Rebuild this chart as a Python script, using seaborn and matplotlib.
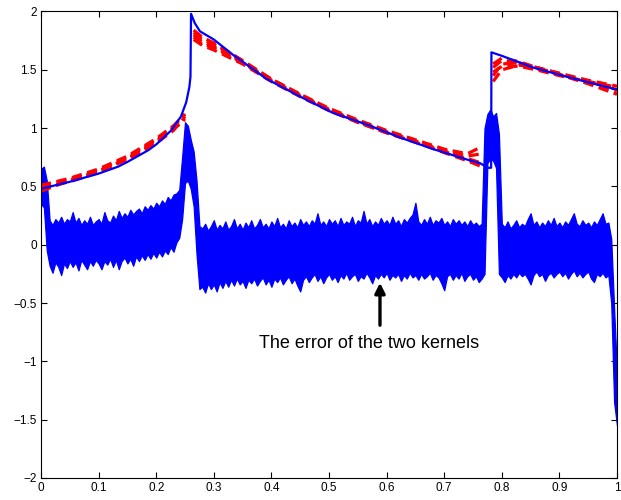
import numpy as np
import pandas as pd
import matplotlib
matplotlib.use("Agg")
import matplotlib.pyplot as plt
import seaborn as sns

# ---------------- data ----------------
# true function (blue solid)
true_x = [0.0, 0.05, 0.10, 0.134, 0.15, 0.186, 0.20, 0.226, 0.243, 0.252, 0.2575, 0.2595,
          0.2605, 0.267, 0.276, 0.30, 0.333, 0.35, 0.392, 0.40, 0.45, 0.507, 0.566, 0.623,
          0.681, 0.74, 0.762, 0.776, 0.7815, 0.782, 0.80, 0.854, 0.913, 1.0]
true_y = [0.48, 0.54, 0.61, 0.67, 0.71, 0.81, 0.86, 0.98, 1.10, 1.22, 1.35, 1.44,
          1.98, 1.90, 1.83, 1.76, 1.63, 1.57, 1.42, 1.40, 1.27, 1.13, 1.03, 0.92,
          0.82, 0.73, 0.70, 0.66, 0.66, 1.65, 1.62, 1.52, 1.44, 1.33]

# estimates with the two kernels (red dashed), three pieces each
red_x1 = [0.0, 0.05, 0.10, 0.15, 0.20, 0.23, 0.25]
red_x2 = [0.265, 0.28, 0.30, 0.35, 0.40, 0.45, 0.50, 0.55, 0.60, 0.65, 0.70, 0.74, 0.765]
red_x3 = [0.785, 0.80, 0.83, 0.86, 0.90, 0.95, 1.0]

est1 = [0.47, 0.55, 0.63, 0.73, 0.88, 0.99, 1.08,
        1.80, 1.74, 1.70, 1.56, 1.41, 1.28, 1.16, 1.06, 0.97, 0.89, 0.80, 0.74, 0.70,
        1.45, 1.55, 1.56, 1.52, 1.47, 1.40, 1.33]
est2 = [0.50, 0.56, 0.64, 0.75, 0.90, 1.01, 1.12,
        1.84, 1.78, 1.73, 1.58, 1.42, 1.29, 1.17, 1.07, 0.98, 0.90, 0.82, 0.78, 0.84,
        1.52, 1.58, 1.55, 1.51, 1.46, 1.39, 1.30]
est3 = [0.49, 0.54, 0.62, 0.74, 0.89, 1.00, 1.06,
        1.76, 1.71, 1.67, 1.55, 1.40, 1.27, 1.15, 1.05, 0.96, 0.88, 0.79, 0.72, 0.67,
        1.40, 1.50, 1.54, 1.52, 1.47, 1.41, 1.36]
est4 = [0.46, 0.55, 0.63, 0.74, 0.87, 0.98, 1.10,
        1.82, 1.76, 1.72, 1.57, 1.42, 1.29, 1.16, 1.06, 0.97, 0.89, 0.81, 0.76, 0.78,
        1.55, 1.60, 1.57, 1.52, 1.46, 1.38, 1.29]
est5 = [0.51, 0.57, 0.65, 0.76, 0.91, 1.02, 1.12,
        1.78, 1.72, 1.69, 1.56, 1.41, 1.28, 1.16, 1.05, 0.96, 0.88, 0.80, 0.73, 0.68,
        1.48, 1.53, 1.53, 1.50, 1.45, 1.40, 1.35]

# error of the two kernels: envelope of the error curves, sampled every 0.005
band_upper = [
    0.65, 0.67, 0.55,
    0.21, 0.17, 0.22, 0.19, 0.24, 0.18, 0.22, 0.20, 0.28, 0.19, 0.23, 0.17, 0.21, 0.18, 0.24,
    0.17, 0.20, 0.22, 0.18, 0.28, 0.21, 0.19, 0.25, 0.21, 0.29, 0.23, 0.27, 0.24, 0.30, 0.26,
    0.29, 0.31, 0.27, 0.33, 0.30, 0.34, 0.31, 0.36, 0.33, 0.38, 0.35, 0.41, 0.38, 0.43, 0.44,
    0.47, 0.75, 1.05, 1.02, 0.90, 0.80, 0.55, 0.16,
    0.14, 0.18, 0.12, 0.16, 0.21, 0.13, 0.17, 0.14, 0.20, 0.13, 0.16, 0.22, 0.14, 0.18, 0.13,
    0.19, 0.15, 0.21, 0.14, 0.17, 0.22, 0.15, 0.18, 0.14, 0.20, 0.16, 0.23, 0.15, 0.18, 0.14,
    0.21, 0.16, 0.19, 0.15, 0.22, 0.17, 0.20, 0.16, 0.21, 0.18, 0.27, 0.17, 0.20, 0.16, 0.22,
    0.18, 0.21, 0.16, 0.23, 0.17, 0.20, 0.18, 0.24, 0.16, 0.21, 0.19, 0.29, 0.18, 0.22, 0.16,
    0.20, 0.17, 0.23, 0.18, 0.21, 0.17, 0.24, 0.18, 0.21, 0.16, 0.22, 0.19, 0.23, 0.26, 0.36,
    0.20, 0.17, 0.22, 0.18, 0.24, 0.17, 0.21, 0.19, 0.23, 0.17, 0.20, 0.16, 0.22, 0.18, 0.21,
    0.17, 0.20, 0.16, 0.21, 0.17, 0.19, 0.16, 0.18,
    1.00, 1.12, 1.16, 1.10, 1.13, 0.95,
    0.18, 0.15, 0.20, 0.14, 0.17, 0.21, 0.15, 0.18, 0.16, 0.22, 0.27, 0.17, 0.20, 0.15, 0.19,
    0.16, 0.21, 0.17, 0.23, 0.16, 0.19, 0.15, 0.20, 0.17, 0.22, 0.27, 0.18, 0.16, 0.21, 0.17,
    0.19, 0.15, 0.20, 0.17, 0.22, 0.27, 0.18, 0.19,
    0.05, -0.55, -1.10,
]
band_lower = [
    0.35, 0.32, -0.05,
    -0.18, -0.24, -0.15, -0.19, -0.26, -0.16, -0.20, -0.14, -0.19, -0.15, -0.22, -0.13, -0.17,
    -0.21, -0.14, -0.18, -0.13, -0.16, -0.21, -0.14, -0.17, -0.12, -0.19, -0.13, -0.21, -0.14,
    -0.11, -0.16, -0.12, -0.18, -0.10, -0.14, -0.09, -0.13, -0.08, -0.12, -0.07, -0.11, -0.06,
    -0.10, -0.05, -0.08, -0.02, -0.06, 0.02,
    0.06, 0.22, 0.53, 0.55, 0.48, 0.33, -0.08, -0.38,
    -0.36, -0.41, -0.33, -0.38, -0.34, -0.40, -0.32, -0.37, -0.31, -0.36, -0.30, -0.35, -0.29,
    -0.34, -0.31, -0.37, -0.30, -0.33, -0.29, -0.35, -0.31, -0.28, -0.34, -0.30, -0.36, -0.29,
    -0.32, -0.28, -0.34, -0.30, -0.27, -0.33, -0.29, -0.35, -0.40, -0.30, -0.27, -0.32, -0.28,
    -0.25, -0.31, -0.27, -0.33, -0.28, -0.25, -0.30, -0.27, -0.32, -0.26, -0.29, -0.24, -0.30,
    -0.27, -0.25, -0.31, -0.27, -0.29, -0.24, -0.28, -0.33, -0.26, -0.29, -0.25, -0.28, -0.24,
    -0.30, -0.26, -0.28, -0.25, -0.31, -0.26, -0.29, -0.24, -0.28, -0.26, -0.30, -0.25, -0.29,
    -0.27, -0.24, -0.30, -0.26, -0.28, -0.33, -0.39, -0.27, -0.25, -0.30, -0.26, -0.29, -0.24,
    -0.31, -0.27, -0.25, -0.30, -0.27, -0.32, -0.29,
    -0.25, 0.70, 0.74, 0.72, 0.66, -0.25,
    -0.28, -0.32, -0.26, -0.29, -0.25, -0.28, -0.24, -0.27, -0.25, -0.29, -0.34, -0.26, -0.23,
    -0.27, -0.25, -0.31, -0.26, -0.24, -0.28, -0.25, -0.23, -0.27, -0.24, -0.29, -0.25, -0.22,
    -0.27, -0.24, -0.28, -0.25, -0.23, -0.29, -0.32, -0.25, -0.27, -0.24, -0.28, -0.26,
    -0.50, -1.35, -1.55,
]
assert len(band_upper) == 201 and len(band_lower) == 201, (len(band_upper), len(band_lower))
band_step = 0.005

x_ticks = [0, 0.1, 0.2, 0.3, 0.4, 0.5, 0.6, 0.7, 0.8, 0.9, 1]
x_ticklabels = ["0", "0.1", "0.2", "0.3", "0.4", "0.5", "0.6", "0.7", "0.8", "0.9", "1"]
y_ticks = [-2, -1.5, -1, -0.5, 0, 0.5, 1, 1.5, 2]
y_ticklabels = ["\u22122", "\u22121.5", "\u22121", "\u22120.5", "0", "0.5", "1", "1.5", "2"]
annotation = "The error of the two kernels"

# ---------------- plot ----------------
sns.set_style("ticks")
plt.rcParams["font.family"] = ["Liberation Sans", "DejaVu Sans"]

fig = plt.figure(figsize=(6.21, 5.0), dpi=100)
ax = fig.add_axes([41 / 621, 22 / 500, 576 / 621, 466.5 / 500])

# red dashed estimates
rows = []
for k, est in enumerate([est1, est2, est3, est4, est5]):
    xs_all = [red_x1, red_x2, red_x3]
    pos = 0
    for s, xs in enumerate(xs_all):
        for xv in xs:
            rows.append({"x": xv, "y": est[pos], "unit": f"{k}_{s}"})
            pos += 1
red_df = pd.DataFrame(rows)
sns.lineplot(data=red_df, x="x", y="y", units="unit", estimator=None, sort=False,
             color=(1, 0, 0), linewidth=2.3, linestyle=(0, (3.2, 1.8)), ax=ax,
             legend=False)

# error band
bx = np.arange(len(band_upper)) * band_step
ax.fill_between(bx, band_lower, band_upper, color=(0, 0, 1), linewidth=0.9,
                edgecolor=(0, 0, 1))

# true function
true_df = pd.DataFrame({"x": true_x, "y": true_y})
sns.lineplot(data=true_df, x="x", y="y", estimator=None, sort=False,
             color=(0, 0, 1), linewidth=1.6, ax=ax)

# annotation
ax.text(0.569, -0.845, annotation, ha="center", va="center", fontsize=13, color="black")
ax.annotate("", xy=(0.5885, -0.326), xytext=(0.5885, -0.69),
            arrowprops=dict(arrowstyle="-|>,head_length=0.6,head_width=0.3",
                            color="black", lw=2.4, shrinkA=0, shrinkB=0))

ax.set_xlim(0, 1)
ax.set_ylim(-2, 2)
ax.set_xticks(x_ticks)
ax.set_xticklabels(x_ticklabels)
ax.set_yticks(y_ticks)
ax.set_yticklabels(y_ticklabels)
ax.set_xlabel("")
ax.set_ylabel("")
ax.tick_params(direction="in", top=True, right=True, length=4, width=0.8,
               labelsize=8.5, colors="black", pad=3)
for sp in ax.spines.values():
    sp.set_visible(True)
    sp.set_color("black")
    sp.set_linewidth(0.8)

fig.savefig("out.png", dpi=100)
